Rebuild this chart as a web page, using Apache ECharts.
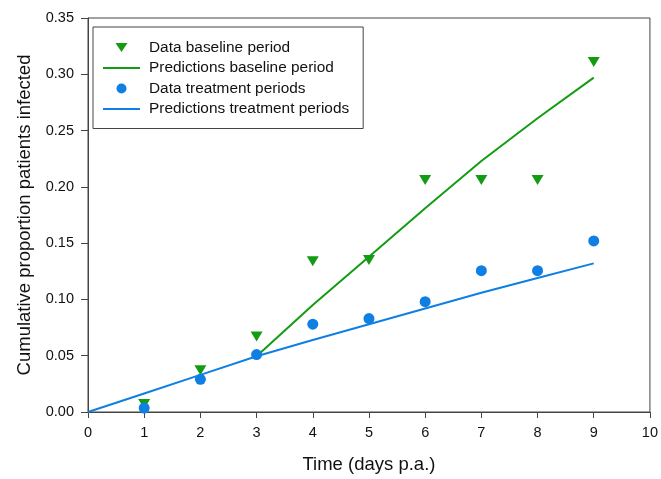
<!DOCTYPE html>
<html>
<head>
<meta charset="utf-8">
<script src="https://cdn.jsdelivr.net/npm/echarts@6/dist/echarts.min.js"></script>
<style>
  html, body { margin: 0; padding: 0; background: #fff; }
  #chart { width: 661px; height: 479px; }
</style>
</head>
<body>
<div id="chart"></div>
<script>
// 读图得到的数据
const days = [1, 2, 3, 4, 5, 6, 7, 8, 9]
const baselineData = [0.007, 0.037, 0.067, 0.134, 0.135, 0.206, 0.206, 0.206, 0.311]
const treatmentData = [0.0035, 0.029, 0.051, 0.078, 0.083, 0.098, 0.1255, 0.1255, 0.152]
const predBaselineDays = [3, 4, 5, 6, 7, 8, 9]
const predBaseline = [0.0495, 0.095, 0.138, 0.181, 0.223, 0.261, 0.297]
const predTreatmentDays = [0, 1, 2, 3, 4, 5, 6, 7, 8, 9]
const predTreatment = [0, 0.0165, 0.033, 0.0495, 0.064, 0.078, 0.092, 0.106, 0.119, 0.132]
const xTicks = [0, 10, 1]
const yTicks = [0, 0.35, 0.05]

const green = '#139c13'
const blue = '#0f7fe3'
const zip = (xs, ys) => xs.map((x, i) => [x, ys[i]])

// 图例图标：先用两个 M 撑开 40x14 的外框，再画小符号
const triIcon = 'path://M0,0 M40,14 M12.5,2.5 L24.5,2.5 L18.5,11.5 Z'
const dotIcon = 'path://M0,0 M40,14 M13.5,7 A5,5 0 1,0 23.5,7 A5,5 0 1,0 13.5,7 Z'
const lineIcon = 'path://M0,0 M40,14 M0,6 L37,6 L37,8 L0,8 Z'

const myChart = echarts.init(document.getElementById('chart'))
myChart.setOption({
  animation: false,
  textStyle: { fontFamily: 'Liberation Sans, Arial, sans-serif' },
  grid: {
    left: 88, right: 9, top: 18, bottom: 65,
    show: true, borderColor: '#444', borderWidth: 1
  },
  legend: {
    orient: 'vertical',
    left: 93, top: 27,
    padding: [13, 14, 12, 10],
    itemWidth: 40, itemHeight: 14, itemGap: 5.5,
    borderColor: '#444', borderWidth: 1,
    textStyle: { fontSize: 15.4, color: '#111', padding: [0, 0, 0, 1] },
    data: [
      { name: 'Data baseline period', icon: triIcon, symbolRotate: 0 },
      { name: 'Predictions baseline period', icon: lineIcon },
      { name: 'Data treatment periods', icon: dotIcon },
      { name: 'Predictions treatment periods', icon: lineIcon }
    ]
  },
  xAxis: {
    type: 'value',
    min: xTicks[0], max: xTicks[1], interval: xTicks[2],
    name: 'Time (days p.a.)',
    nameLocation: 'middle', nameGap: 43,
    nameTextStyle: { fontSize: 18.5, color: '#111' },
    splitLine: { show: false },
    axisLine: { lineStyle: { color: '#444' } },
    axisTick: { inside: false, length: 6, lineStyle: { color: '#444' } },
    axisLabel: { fontSize: 14.5, color: '#111', margin: 13 }
  },
  yAxis: {
    type: 'value',
    min: yTicks[0], max: yTicks[1], interval: yTicks[2],
    name: 'Cumulative proportion patients infected',
    nameLocation: 'middle', nameGap: 53,
    nameTextStyle: { fontSize: 18.5, color: '#111' },
    splitLine: { show: false },
    axisLine: { show: true, lineStyle: { color: '#444' } },
    axisTick: { show: true, inside: false, length: 7, lineStyle: { color: '#444' } },
    axisLabel: { fontSize: 14.5, color: '#111', margin: 14, formatter: v => v.toFixed(2) }
  },
  series: [
    {
      name: 'Data baseline period',
      type: 'scatter',
      symbol: 'triangle', symbolRotate: 180, symbolSize: [12, 10],
      itemStyle: { color: green, opacity: 1 },
      data: zip(days, baselineData),
      z: 3
    },
    {
      name: 'Predictions baseline period',
      type: 'line',
      symbol: 'none',
      lineStyle: { color: green, width: 2 },
      itemStyle: { color: green },
      data: zip(predBaselineDays, predBaseline)
    },
    {
      name: 'Data treatment periods',
      type: 'scatter',
      symbol: 'circle', symbolSize: 11,
      itemStyle: { color: blue, opacity: 1 },
      data: zip(days, treatmentData),
      z: 4
    },
    {
      name: 'Predictions treatment periods',
      type: 'line',
      symbol: 'none',
      lineStyle: { color: blue, width: 2 },
      itemStyle: { color: blue },
      data: zip(predTreatmentDays, predTreatment)
    }
  ]
})
</script>
</body>
</html>
